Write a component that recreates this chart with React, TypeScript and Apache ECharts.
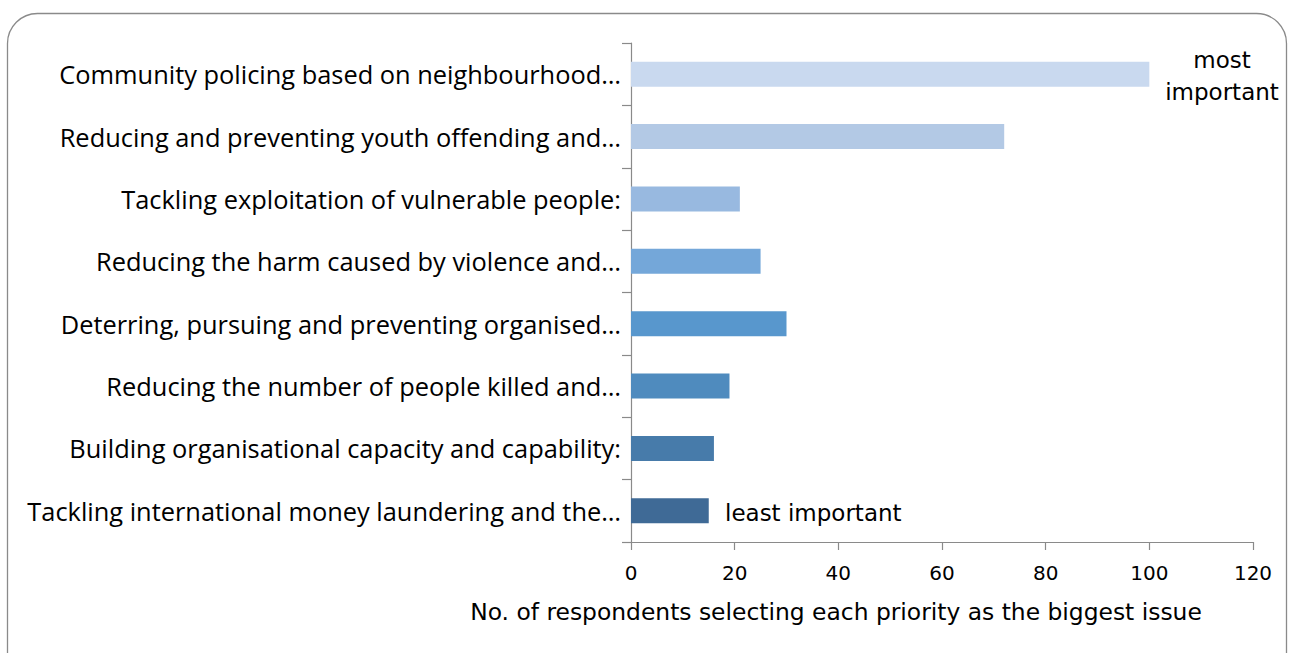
import React, { useEffect, useRef } from "react";
import * as echarts from "echarts";

const categories = [
  "Community policing based on neighbourhood…",
  "Reducing and preventing youth offending and…",
  "Tackling exploitation of vulnerable people:",
  "Reducing the harm caused by violence and…",
  "Deterring, pursuing and preventing organised…",
  "Reducing the number of people killed and…",
  "Building organisational capacity and capability:",
  "Tackling international money laundering and the…",
];
const values = [100, 72, 21, 25, 30, 19, 16, 15];
const barColors = [
  "#C9D9EF",
  "#B3C9E5",
  "#98B9E0",
  "#74A7D9",
  "#5897CD",
  "#4F8BBE",
  "#477BAA",
  "#3F6A96",
];
const xTitle = "No. of respondents selecting each priority as the biggest issue";
const topNote = "most\nimportant";
const bottomNote = "least important";

const FONT = "DejaVu Sans";
const LABEL_FONT = "Open Sans";

export default function App() {
  const ref = useRef<HTMLDivElement>(null);
  useEffect(() => {
    document.body.style.margin = "0";
    const chart = echarts.init(ref.current!, null, { renderer: "svg" });
    chart.setOption({
      animation: false,
      textStyle: { fontFamily: FONT },
      grid: { left: 631, right: 37, top: 43, bottom: 111 },
      xAxis: {
        type: "value",
        min: 0,
        max: 120,
        interval: 20,
        splitLine: { show: false },
        axisLine: { show: true, lineStyle: { color: "#8a8a8a", width: 1.2 } },
        axisTick: { show: true, length: 8, lineStyle: { color: "#8a8a8a", width: 1.2 } },
        axisLabel: { color: "#000", fontSize: 20, fontFamily: FONT, margin: 21 },
      },
      yAxis: {
        type: "category",
        data: categories,
        inverse: true,
        axisLine: { show: true, lineStyle: { color: "#8a8a8a", width: 1.2 } },
        axisTick: { show: true, length: 9, lineStyle: { color: "#8a8a8a", width: 1.2 } },
        axisLabel: { color: "#000", fontSize: 25.4, fontFamily: LABEL_FONT, margin: 10 },
      },
      series: [
        {
          type: "bar",
          data: values.map((v, i) => ({ value: v, itemStyle: { color: barColors[i] } })),
          barWidth: "40%",
        },
      ],
      graphic: [
        {
          type: "rect",
          shape: { x: 7.5, y: 13.5, width: 1279, height: 700, r: 30 },
          style: { fill: "none", stroke: "#8a8a8a", lineWidth: 1.3 },
          silent: true,
        },
        {
          type: "text",
          x: 1222,
          y: 76,
          style: {
            text: topNote,
            fontSize: 23,
            fontFamily: FONT,
            fill: "#000",
            align: "center",
            verticalAlign: "middle",
            lineHeight: 32,
          },
        },
        {
          type: "text",
          x: 725,
          y: 513,
          style: {
            text: bottomNote,
            fontSize: 23,
            fontFamily: FONT,
            fill: "#000",
            align: "left",
            verticalAlign: "middle",
          },
        },
        {
          type: "text",
          x: 836,
          y: 612,
          style: {
            text: xTitle,
            fontSize: 23.4,
            fontFamily: FONT,
            fill: "#000",
            align: "center",
            verticalAlign: "middle",
          },
        },
      ],
    });
    return () => chart.dispose();
  }, []);
  return <div ref={ref} style={{ width: 1290, height: 653 }} />;
}
